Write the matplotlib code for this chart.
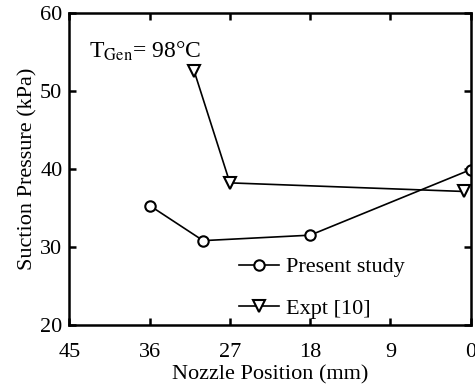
import matplotlib
matplotlib.use("Agg")
import matplotlib.pyplot as plt

# Data
present_x = [36, 30, 18, 0]
present_y = [35.3, 30.8, 31.5, 39.9]

expt_x = [31, 27, 0.8]
expt_y = [52.5, 38.2, 37.1]

x_ticks = [45, 36, 27, 18, 9, 0]
y_ticks = [20, 30, 40, 50, 60]

plt.rcParams["font.family"] = ["Liberation Serif", "DejaVu Serif"]
plt.rcParams["mathtext.fontset"] = "stix"

fig = plt.figure(figsize=(4.75, 3.85), dpi=100)
ax = fig.add_axes([0.146, 0.156, 0.845, 0.811])

ax.plot(present_x, present_y, color="black", lw=1.2, marker="o", ms=7.5,
        mfc="white", mec="black", mew=1.5, label="Present study")
ax.plot(expt_x, expt_y, color="black", lw=1.2, marker="v", ms=8,
        mfc="white", mec="black", mew=1.5, label="Expt [10]")

ax.set_xlim(45, 0)
ax.set_ylim(20, 60)
ax.set_xticks(x_ticks)
ax.set_yticks(y_ticks)
ax.tick_params(direction="in", top=True, right=True, length=5, width=1.8,
               labelsize=16)
ax.tick_params(axis="x", pad=13)
ax.tick_params(axis="y", pad=5)
for s in ax.spines.values():
    s.set_linewidth(1.8)

ax.set_xlabel("Nozzle Position (mm)", fontsize=16)
ax.xaxis.set_label_coords(0.5, -0.13)
ax.set_ylabel("Suction Pressure (kPa)", fontsize=16, labelpad=2)

ax.text(0.05, 0.855, r"T$_{\mathrm{Gen}}$= 98°C", transform=ax.transAxes,
        fontsize=17)

ax.legend(loc="lower right", bbox_to_anchor=(0.885, -0.045), frameon=False,
          fontsize=16, handlelength=1.8, labelspacing=0.95, handletextpad=0.3)

fig.savefig("out.png", dpi=100)
